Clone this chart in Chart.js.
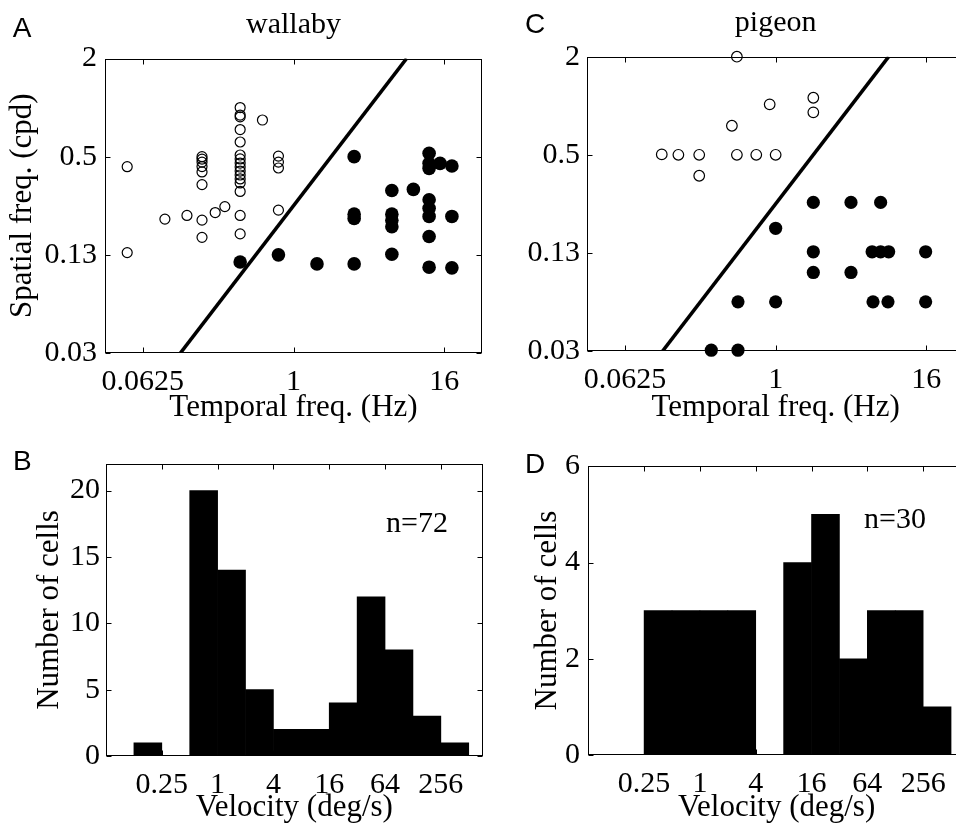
<!DOCTYPE html>
<html>
<head>
<meta charset="utf-8">
<script src="https://cdn.jsdelivr.net/npm/chart.js@4.4.0/dist/chart.umd.min.js"></script>
<style>
  html, body { margin: 0; padding: 0; background: #fff; overflow: hidden; width: 956px; height: 829px; }
  .panel { position: absolute; }
</style>
</head>
<body>
<div class="panel" id="pA" style="left:0;top:0;width:500px;height:440px"><canvas id="chartA"></canvas></div>
<div class="panel" id="pC" style="left:480px;top:0;width:500px;height:440px"><canvas id="chartC"></canvas></div>
<div class="panel" id="pB" style="left:0;top:440px;width:500px;height:420px"><canvas id="chartB"></canvas></div>
<div class="panel" id="pD" style="left:480px;top:440px;width:500px;height:420px"><canvas id="chartD"></canvas></div>
<script>
// wallaby cells: temporal freq (Hz) / spatial freq (cpd)
const wallabySlowTF = [0.047, 0.047, 0.094, 0.141,
    0.186, 0.186, 0.186, 0.186, 0.186, 0.186, 0.186, 0.186,
    0.237, 0.283,
    0.375, 0.375, 0.375, 0.375, 0.375, 0.375, 0.375, 0.375,
    0.375, 0.375, 0.375, 0.375, 0.375, 0.375, 0.375, 0.375,
    0.565, 0.758, 0.758, 0.758, 0.758];
const wallabySlowSF = [0.434, 0.129, 0.207, 0.218,
    0.50, 0.483, 0.463, 0.435, 0.403, 0.337, 0.204, 0.16,
    0.227, 0.247,
    1.0, 0.90, 0.877, 0.733, 0.615, 0.512, 0.484, 0.457,
    0.432, 0.408, 0.386, 0.365, 0.345, 0.306, 0.218, 0.168,
    0.839, 0.504, 0.463, 0.426, 0.235];
const wallabyFastTF = [0.375, 0.758, 1.54,
    3.05, 3.05, 3.05, 3.05,
    6.1, 6.1, 6.1, 6.1, 6.1,
    9.06,
    12.1, 12.1, 12.1, 12.1, 12.1, 12.1, 12.1, 12.1,
    14.8, 18.4, 18.4, 18.4];
const wallabyFastSF = [0.113, 0.125, 0.110,
    0.50, 0.222, 0.209, 0.110,
    0.31, 0.222, 0.204, 0.186, 0.126,
    0.315,
    0.525, 0.455, 0.424, 0.272, 0.241, 0.215, 0.162, 0.105,
    0.455, 0.438, 0.215, 0.104];

// pigeon cells
const pigeonSlowTF = [0.49, 0.123, 0.167, 0.245, 0.245, 0.447, 0.49, 0.70, 0.896, 1.0, 2.0, 2.0];
const pigeonSlowSF = [2.0, 0.503, 0.5, 0.5, 0.372, 0.754, 0.5, 0.5, 1.02, 0.5, 1.12, 0.911];
const pigeonFastTF = [0.306, 0.5, 0.5, 1.0, 1.0, 2.0, 2.0, 2.0, 4.0, 4.0,
    6.9, 5.9, 6.9, 8.0, 6.0, 7.9, 15.8, 15.8];
const pigeonFastSF = [0.0316, 0.0316, 0.0626, 0.0626, 0.177, 0.255, 0.127, 0.0948, 0.255, 0.0948,
    0.255, 0.127, 0.127, 0.127, 0.0626, 0.0626, 0.127, 0.0626];

// 4 deg/s boundary
const boundaryTF = [0.125, 8];
const boundarySF = [0.03125, 2];

const tfTicks = [0.0625, 1, 16];
const tfTickLabels = ['0.0625', '1', '16'];
const sfTicks = [0.03125, 0.125, 0.5, 2];
const sfTickLabels = ['0.03', '0.13', '0.5', '2'];

// velocity histograms (octave bins)
const velocityBinEdges = [0.125, 0.25, 0.5, 1, 2, 4, 8, 16, 32, 64, 128, 256, 512];
const wallabyCounts = [1, 0, 20, 14, 5, 2, 2, 4, 12, 8, 3, 1];
const pigeonCounts = [0, 3, 3, 3, 3, 0, 4, 5, 2, 3, 3, 1];
const velocityTicks = [0.25, 1, 4, 16, 64, 256];
const velocityTickLabels = ['0.25', '1', '4', '16', '64', '256'];
const wallabyCountTicks = [0, 5, 10, 15, 20];
const pigeonCountTicks = [0, 2, 4, 6];

const SERIF = "'Liberation Serif', 'Times New Roman', serif";
const SANS = "'Liberation Sans', Arial, sans-serif";

const framePlugin = {
    id: 'frame',
    afterDatasetsDraw(chart, args, opts) {
        const ctx = chart.ctx;
        const a = chart.chartArea;
        const xs = chart.scales.x;
        const ys = chart.scales.y;
        const L = Math.round(a.left) + 0.5, R = Math.round(a.right) - 0.5;
        const T = Math.round(a.top) + 0.5, B = Math.round(a.bottom) - 0.5;
        ctx.save();
        ctx.strokeStyle = '#000';
        ctx.lineWidth = 1;
        ctx.strokeRect(L, T, R - L, B - T);
        ctx.beginPath();
        xs.ticks.forEach(t => {
            const px = Math.round(xs.getPixelForValue(t.value)) + 0.5;
            ctx.moveTo(px, B); ctx.lineTo(px, B - 5);
            ctx.moveTo(px, T); ctx.lineTo(px, T + 5);
        });
        ys.ticks.forEach(t => {
            const py = Math.round(ys.getPixelForValue(t.value)) + 0.5;
            ctx.moveTo(L, py); ctx.lineTo(L + 5, py);
            ctx.moveTo(R, py); ctx.lineTo(R - 5, py);
        });
        ctx.stroke();
        ctx.fillStyle = '#000';
        (opts.texts || []).forEach(t => {
            ctx.font = t.font;
            ctx.textAlign = t.align || 'left';
            ctx.textBaseline = 'alphabetic';
            const x = t.x === 'center' ? (a.left + a.right) / 2 : t.x;
            ctx.fillText(t.text, x, t.y);
        });
        ctx.restore();
    }
};

function fixedTicks(values) {
    return s => { s.ticks = values.map(v => ({ value: v })); };
}

function xAxis(type, min, max, ticks, labels, title, titlePad, height) {
    return {
        type: type, min: min, max: max, bounds: 'data', offset: false,
        grid: { display: false, drawTicks: false }, border: { display: false },
        afterBuildTicks: fixedTicks(ticks),
        afterFit: s => { s.height = height; },
        ticks: {
            callback: v => labels[ticks.indexOf(v)],
            font: { family: SERIF, size: 30 }, color: '#000',
            padding: 11, autoSkip: false, maxRotation: 0, minRotation: 0
        },
        title: {
            display: true, text: title, color: '#000',
            font: { family: SERIF, size: 31 },
            padding: { top: 0, bottom: titlePad }
        }
    };
}

function yAxis(type, min, max, ticks, labels, title, titlePad, width, tickPad) {
    return {
        type: type, min: min, max: max, bounds: 'data',
        grid: { display: false, drawTicks: false }, border: { display: false },
        afterBuildTicks: fixedTicks(ticks),
        afterFit: s => { s.width = width; },
        ticks: {
            callback: v => labels[ticks.indexOf(v)],
            font: { family: SERIF, size: 30 }, color: '#000',
            padding: tickPad, autoSkip: false
        },
        title: {
            display: !!title, text: title || '', color: '#000',
            font: { family: SERIF, size: 31 },
            padding: { top: titlePad, bottom: 0 }
        }
    };
}

function points(tf, sf) {
    return tf.map((x, i) => ({ x: x, y: sf[i] }));
}

function baseOptions(padTop, padRight, texts) {
    return {
        responsive: true, maintainAspectRatio: false, animation: false, events: [],
        layout: { padding: { top: padTop, right: padRight, bottom: 0, left: 0 } },
        plugins: { legend: { display: false }, tooltip: { enabled: false }, frame: { texts: texts } }
    };
}

function scatterChart(id, slowTF, slowSF, fastTF, fastSF, cfg) {
    const opts = baseOptions(cfg.padTop, cfg.padRight, cfg.texts);
    opts.scales = {
        x: xAxis('logarithmic', 0.03125, 32, tfTicks, tfTickLabels, 'Temporal freq. (Hz)', 14, cfg.xHeight),
        y: yAxis('logarithmic', 0.03125, 2, sfTicks, sfTickLabels, cfg.yTitle, 4.4, cfg.yWidth, cfg.tickPad)
    };
    new Chart(document.getElementById(id), {
        type: 'scatter',
        data: {
            datasets: [
                {
                    type: 'line', data: points(boundaryTF, boundarySF),
                    borderColor: '#000', borderWidth: 3.6, pointRadius: 0, fill: false
                },
                {
                    data: points(slowTF, slowSF), clip: false,
                    pointRadius: cfg.openR, pointBorderWidth: 1.2,
                    pointBackgroundColor: 'rgba(255,255,255,0)', pointBorderColor: '#000'
                },
                {
                    data: points(fastTF, fastSF), clip: false,
                    pointRadius: cfg.fillR, pointBorderWidth: 0,
                    pointBackgroundColor: '#000', pointBorderColor: '#000'
                }
            ]
        },
        options: opts,
        plugins: [framePlugin]
    });
}

function binData(counts) {
    return counts.map((n, i) => ({
        x: Math.sqrt(velocityBinEdges[i] * velocityBinEdges[i + 1]),
        y: n
    }));
}

function histChart(id, counts, yMax, yTicks, cfg) {
    const opts = baseOptions(cfg.padTop, cfg.padRight, cfg.texts);
    opts.scales = {
        x: xAxis('logarithmic', 0.0625, 724.08, velocityTicks, velocityTickLabels, 'Velocity (deg/s)', 33.5, cfg.xHeight),
        y: yAxis('linear', 0, yMax, yTicks, yTicks.map(String), 'Number of cells', cfg.yTitlePad, cfg.yWidth, cfg.tickPad)
    };
    new Chart(document.getElementById(id), {
        type: 'bar',
        data: {
            datasets: [{
                data: binData(counts),
                backgroundColor: '#000', borderWidth: 0,
                barPercentage: 1, categoryPercentage: 1
            }]
        },
        options: opts,
        plugins: [framePlugin]
    });
}

scatterChart('chartA', wallabySlowTF, wallabySlowSF, wallabyFastTF, wallabyFastSF, {
    padTop: 58.5, padRight: 18, xHeight: 87, yWidth: 105, tickPad: 8,
    yTitle: 'Spatial freq. (cpd)', openR: 5, fillR: 6.8,
    texts: [
        { text: 'A', x: 12.7, y: 36.7, font: '28px ' + SANS },
        { text: 'wallaby', x: 'center', y: 33, font: '30px ' + SERIF, align: 'center' }
    ]
});

scatterChart('chartC', pigeonSlowTF, pigeonSlowSF, pigeonFastTF, pigeonFastSF, {
    padTop: 56.7, padRight: 16, xHeight: 89, yWidth: 107.3, tickPad: 7.3,
    yTitle: null, openR: 5.3, fillR: 6.6,
    texts: [
        { text: 'C', x: 45, y: 33, font: '28px ' + SANS },
        { text: 'pigeon', x: 'center', y: 30.5, font: '30px ' + SERIF, align: 'center' }
    ]
});

histChart('chartB', wallabyCounts, 22, wallabyCountTicks, {
    padTop: 21.7, padRight: 17.3, xHeight: 104, yWidth: 106, tickPad: 6, yTitlePad: 30.9,
    texts: [
        { text: 'B', x: 13, y: 30, font: '28px ' + SANS },
        { text: 'n=72', x: 417, y: 91.7, font: '30px ' + SERIF, align: 'center' }
    ]
});

histChart('chartD', pigeonCounts, 6, pigeonCountTicks, {
    padTop: 20.7, padRight: 15, xHeight: 105, yWidth: 108.3, tickPad: 8.3, yTitlePad: 48.9,
    texts: [
        { text: 'D', x: 45, y: 33, font: '28px ' + SANS },
        { text: 'n=30', x: 415, y: 88.3, font: '30px ' + SERIF, align: 'center' }
    ]
});
</script>
</body>
</html>
